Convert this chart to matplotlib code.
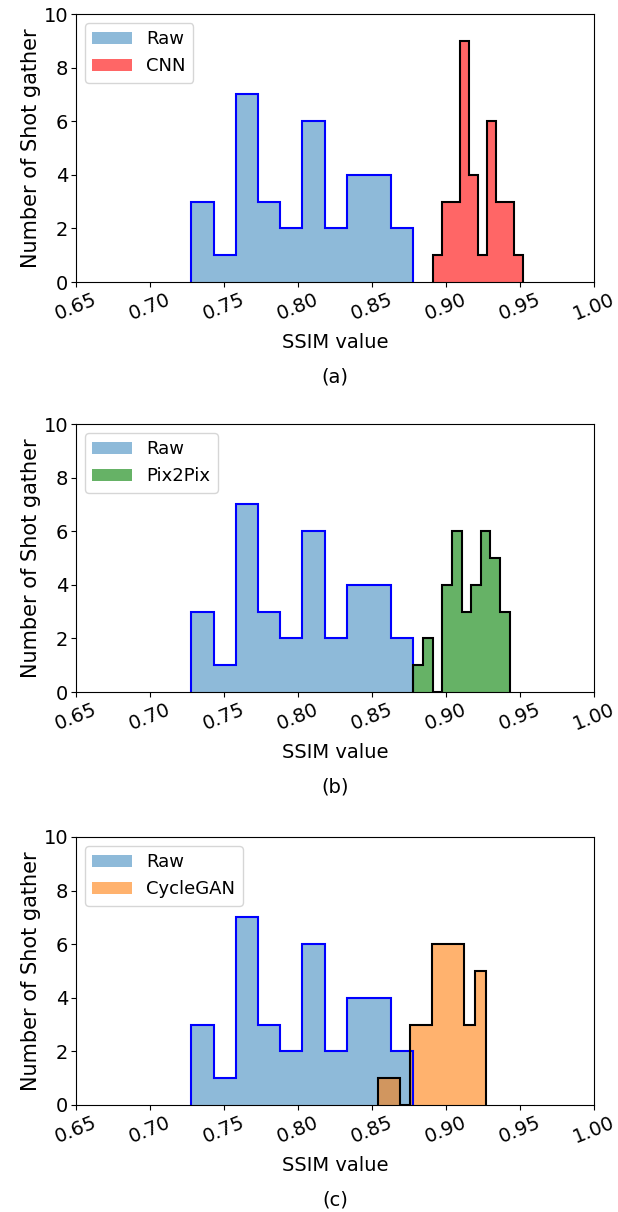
import numpy as np
import matplotlib
matplotlib.use("Agg")
import matplotlib.pyplot as plt

# ---- data ----
raw_range = (0.728, 0.878)
raw_counts = [3, 1, 7, 3, 2, 6, 2, 4, 4, 2]

cnn_range = (0.891, 0.952)
cnn_counts = [1, 3, 3, 9, 4, 1, 6, 3, 3, 1]

pix_range = (0.878, 0.943)
pix_counts = [1, 2, 0, 4, 6, 3, 4, 6, 5, 3]

cyc_range = (0.854, 0.927)
cyc_counts = [1, 1, 0, 3, 3, 6, 6, 6, 3, 5]

methods = ["CNN", "Pix2Pix", "CycleGAN"]
captions = ["(a)", "(b)", "(c)"]
xticks = [0.65, 0.70, 0.75, 0.80, 0.85, 0.90, 0.95, 1.00]
yticks = [0, 2, 4, 6, 8, 10]

series = [(cnn_range, cnn_counts), (pix_range, pix_counts), (cyc_range, cyc_counts)]
fill_colors = [("red", 0.6), ("green", 0.6), ("tab:orange", 0.6)]

W, H = 618, 1212
fig = plt.figure(figsize=(W / 100, H / 100), dpi=100)
plt.rcParams['font.family'] = ['DejaVu Sans']

tops = [14, 424, 837]
ax_h = 268
left, right = 76, 594
tfs = 13
lfs = 15

def edges(rng, counts):
    return np.linspace(rng[0], rng[1], len(counts) + 1)

for i, (top, (rng, cnts), (fc, fa), name, cap) in enumerate(
        zip(tops, series, fill_colors, methods, captions)):
    bottom = top + ax_h
    ax = fig.add_axes([left / W, 1 - bottom / H, (right - left) / W, ax_h / H])
    re = edges(raw_range, raw_counts)
    me = edges(rng, cnts)
    ax.stairs(raw_counts, re, fill=True, color="tab:blue", alpha=0.5,
              label="Raw", linewidth=0)
    ax.stairs(cnts, me, fill=True, color=fc, alpha=fa, label=name, linewidth=0)
    ax.stairs(raw_counts, re, baseline=0, color="blue", linewidth=1.5)
    ax.stairs(cnts, me, baseline=0, color="black", linewidth=1.5)
    ax.set_xlim(0.65, 1.0)
    ax.set_ylim(0, 10)
    ax.set_xticks(xticks)
    ax.set_xticklabels([f"{t:.2f}" for t in xticks], rotation=22, fontsize=tfs + 1)
    ax.set_yticks(yticks)
    ax.set_yticklabels([str(t) for t in yticks], fontsize=tfs + 1)
    ax.tick_params(axis="both", pad=2)
    ax.set_ylabel("Number of Shot gather", fontsize=lfs, labelpad=2)
    ax.set_xlabel("SSIM value", fontsize=lfs - 1, labelpad=7)
    ax.legend(loc="upper left", fontsize=tfs, handlelength=2.2)
    fig.text((left + right) / 2 / W, 1 - (bottom + 95) / H, cap,
             ha="center", va="center", fontsize=tfs + 1)

fig.savefig("out.png", dpi=100)
